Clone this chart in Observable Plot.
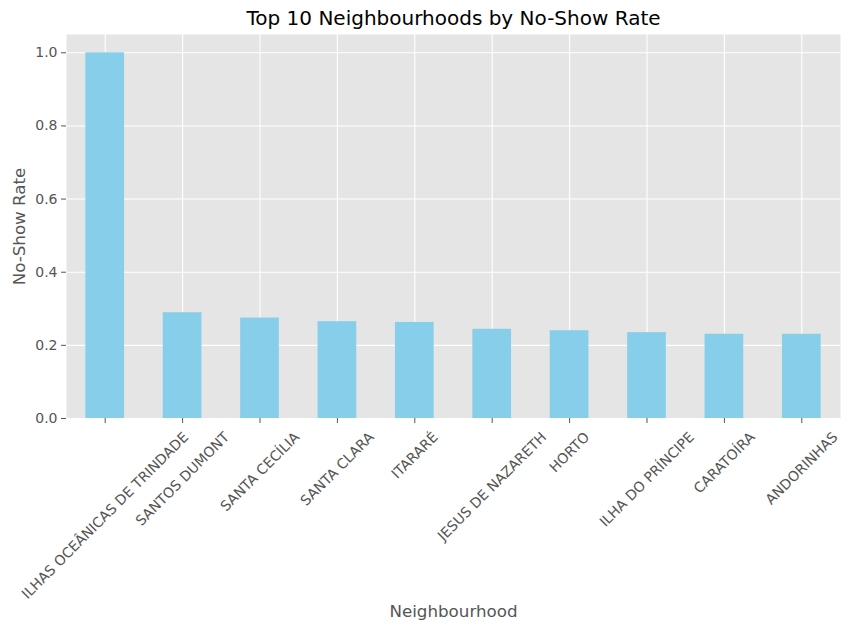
<!DOCTYPE html>
<html>
<head>
<meta charset="utf-8">
<script src="https://cdn.jsdelivr.net/npm/d3@7"></script>
<script src="https://cdn.jsdelivr.net/npm/@observablehq/plot@0.6"></script>
<style>
  html, body { margin: 0; padding: 0; background: white; }
</style>
</head>
<body>
<div id="chart"></div>
<script>
const categories = [
  "ILHAS OCEÂNICAS DE TRINDADE",
  "SANTOS DUMONT",
  "SANTA CECÍLIA",
  "SANTA CLARA",
  "ITARARÉ",
  "JESUS DE NAZARETH",
  "HORTO",
  "ILHA DO PRÍNCIPE",
  "CARATOÍRA",
  "ANDORINHAS"
];
const rates = [1.0, 0.2892, 0.2746, 0.2647, 0.2627, 0.2440, 0.2400, 0.2348, 0.2304, 0.2303];
const yTicks = [0.0, 0.2, 0.4, 0.6, 0.8, 1.0];

const data = categories.map((c, i) => ({ neighbourhood: c, rate: rates[i] }));

const FONT = "DejaVu Sans";
const tickFont = 14;
const canvas = document.createElement("canvas");
const ctx = canvas.getContext("2d");
ctx.font = `${tickFont}px "${FONT}"`;

const labelMarks = categories.map(c => {
  const w = ctx.measureText(c).width;
  const dy = 10 + (w + 18) / (2 * Math.SQRT2);
  return Plot.text([c], {
    x: d => d,
    frameAnchor: "bottom",
    textAnchor: "middle",
    lineAnchor: "middle",
    rotate: -45,
    dy,
    fill: "#555555",
    fontSize: tickFont
  });
});

const chart = Plot.plot({
  width: 850,
  height: 631,
  marginLeft: 66,
  marginRight: 10,
  marginTop: 34,
  marginBottom: 213,
  style: { fontFamily: FONT, fontSize: tickFont + "px", background: "white", color: "#555555" },
  x: { domain: categories, paddingInner: 0.5, paddingOuter: 0.25, align: 0.5, round: false, axis: null },
  y: { domain: [0, 1.05], axis: null },
  marks: [
    Plot.frame({ fill: "#E5E5E5", stroke: null }),
    Plot.gridX(categories, { stroke: "white", strokeOpacity: 1, strokeWidth: 1.1 }),
    Plot.gridY(yTicks, { stroke: "white", strokeOpacity: 1, strokeWidth: 1.1 }),
    Plot.barY(data, { x: "neighbourhood", y: "rate", fill: "#87CEEB" }),
    Plot.axisY(yTicks, {
      tickFormat: d3.format(".1f"), tickSize: 5, tickPadding: 4,
      stroke: "#555555", fill: "#555555", label: null, fontSize: tickFont
    }),
    Plot.axisX(categories, {
      tickSize: 5, tickFormat: () => "", stroke: "#555555", label: null
    }),
    ...labelMarks,
    Plot.text(["Top 10 Neighbourhoods by No-Show Rate"], {
      frameAnchor: "top", lineAnchor: "middle", dy: -16,
      fontSize: 20, fill: "black"
    }),
    Plot.text(["No-Show Rate"], {
      frameAnchor: "left", rotate: -90, dx: -47, textAnchor: "middle", lineAnchor: "middle",
      fontSize: 16.7, fill: "#555555"
    }),
    Plot.text(["Neighbourhood"], {
      frameAnchor: "bottom", dy: 193, lineAnchor: "middle",
      fontSize: 16.7, fill: "#555555"
    })
  ]
});

document.getElementById("chart").appendChild(chart);
</script>
</body>
</html>
